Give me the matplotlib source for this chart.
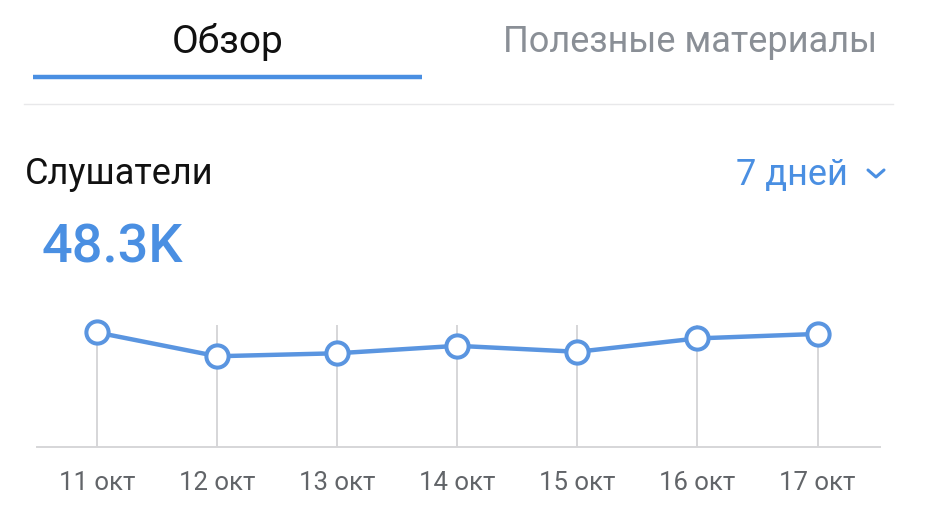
import matplotlib.pyplot as plt
from matplotlib.lines import Line2D

plt.rcParams['font.family'] = ['Roboto', 'DejaVu Sans']

W, H = 928, 522

# data (thousands of listeners per day)
days = ["11 окт", "12 окт", "13 окт", "14 окт", "15 окт", "16 окт", "17 окт"]
listeners = [7.7, 6.1, 6.3, 6.8, 6.4, 7.3, 7.6]
total_label = "48.3K"

BLUE = "#4a8fe2"
LINE_BLUE = "#5a95e0"
GRAY_TXT = "#626569"
GRID = "#d6d6d8"


def fx(px):
    return px / W


def fy(py):
    return 1 - py / H


fig = plt.figure(figsize=(W / 100, H / 100), dpi=100)
fig.patch.set_facecolor("white")

# ---- header tabs
fig.text(fx(228), fy(42), "Обзор", fontsize=28, color="#111111",
         ha="center", va="center")
fig.text(fx(690), fy(42), "Полезные материалы", fontsize=26, color="#8a8f96",
         ha="center", va="center")
fig.add_artist(Line2D([fx(33), fx(422)], [fy(77), fy(77)],
                      color=BLUE, lw=3.2, solid_capstyle="butt"))
fig.add_artist(Line2D([fx(24), fx(893)], [fy(104), fy(104)],
                      color="#e8e8ea", lw=1.0))

# ---- section title
fig.text(fx(25), fy(174), "Слушатели", fontsize=26, color="#111111",
         ha="left", va="center")
fig.text(fx(848), fy(175), "7 дней", fontsize=26, color=BLUE,
         ha="right", va="center")
fig.add_artist(Line2D([fx(868), fx(876), fx(884)], [fy(170), fy(177), fy(170)],
                      color=BLUE, lw=2.2, solid_capstyle="round",
                      solid_joinstyle="round"))
fig.text(fx(42), fy(248), total_label, fontsize=39, color=BLUE,
         ha="left", va="center", fontweight="medium")

# ---- chart
ax = fig.add_axes([fx(37), fy(447), fx(880) - fx(37), (447 - 325) / H])
x = list(range(len(days)))
for xi in x:
    ax.axvline(xi, color=GRID, lw=1.4, zorder=1)
ax.plot(x, listeners, color=LINE_BLUE, lw=3.2, marker="o", markersize=16,
        markerfacecolor="white", markeredgecolor=LINE_BLUE, markeredgewidth=2.9,
        zorder=3, clip_on=False)
ax.set_xlim(-0.5, 6.52)
ax.set_ylim(0, 8.2)
for s in ["top", "right", "left"]:
    ax.spines[s].set_visible(False)
ax.spines["bottom"].set_color(GRID)
ax.spines["bottom"].set_linewidth(1.4)
ax.set_yticks([])
ax.set_xticks(x)
ax.set_xticklabels(days, fontsize=18.5, color=GRAY_TXT)
ax.tick_params(axis="x", length=0, pad=17)

fig.savefig("out.png", dpi=100, facecolor="white")
